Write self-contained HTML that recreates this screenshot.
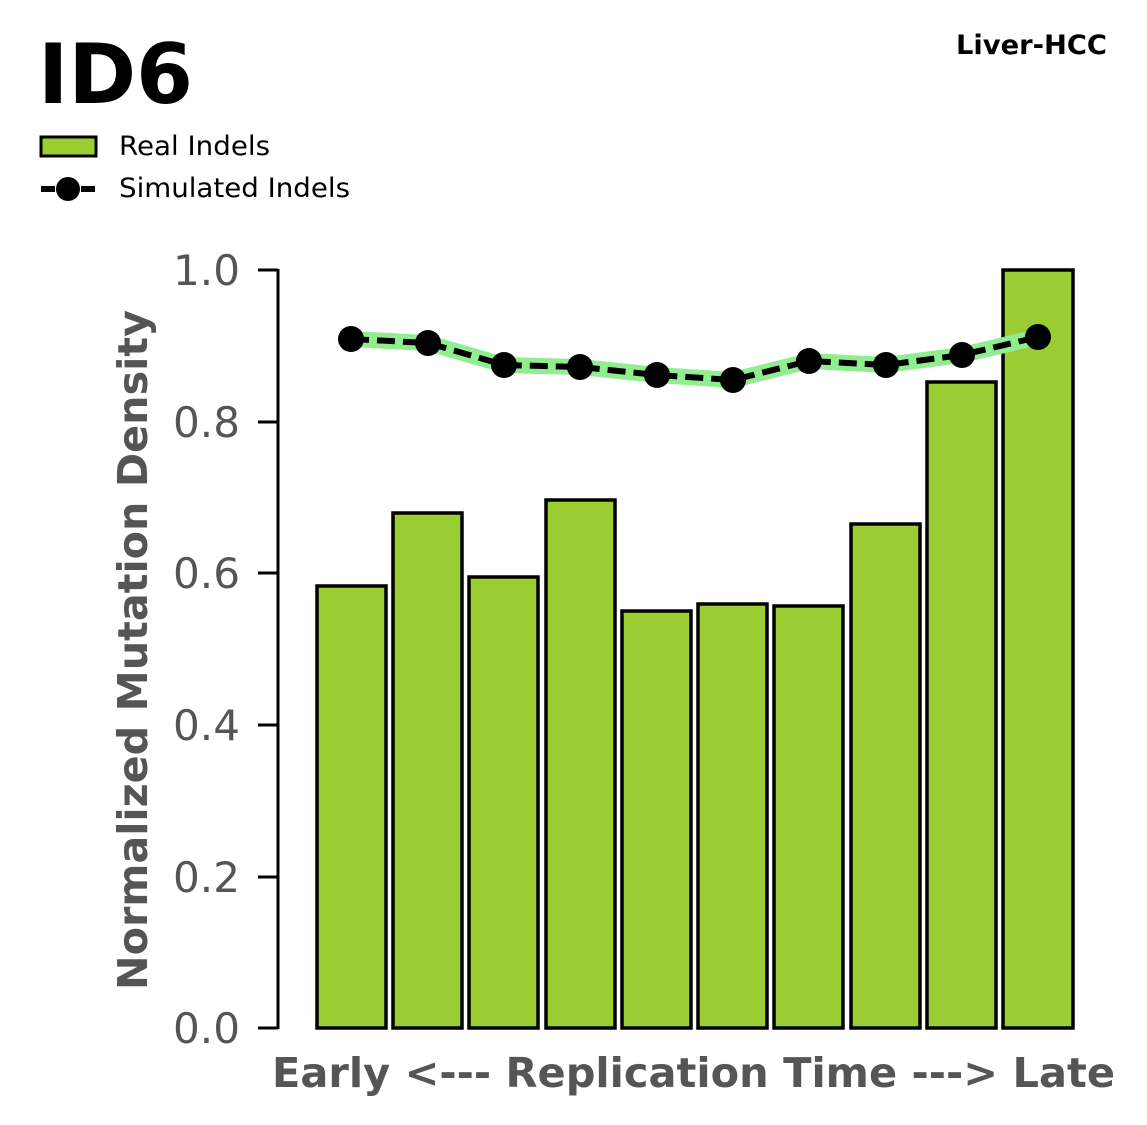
<!DOCTYPE html>
<html><head><meta charset="utf-8"><style>
html,body{margin:0;padding:0;background:#fff;}
svg{display:block;}
</style></head><body>
<svg width="1147" height="1125" viewBox="0 0 1147 1125" xmlns="http://www.w3.org/2000/svg" font-family="'DejaVu Sans','Liberation Sans',sans-serif">
<text x="38" y="103" font-size="83" font-weight="bold" fill="#000" textLength="155" lengthAdjust="spacingAndGlyphs">ID6</text>
<text x="956" y="54" font-size="27" font-weight="bold" fill="#000" textLength="151" lengthAdjust="spacingAndGlyphs">Liver-HCC</text>
<rect x="41" y="137" width="55" height="19" fill="#9acd32" stroke="#000" stroke-width="3"/>
<text x="119" y="155" font-size="27" fill="#000" textLength="151" lengthAdjust="spacingAndGlyphs">Real Indels</text>
<line x1="41" y1="189" x2="96" y2="189" stroke="#000" stroke-width="6" stroke-dasharray="14,6"/>
<circle cx="68" cy="189" r="12" fill="#000"/>
<text x="119" y="197" font-size="27" fill="#000" textLength="231" lengthAdjust="spacingAndGlyphs">Simulated Indels</text>
<g stroke="#000" stroke-width="3.5" fill="#9acd32">
<rect x="317" y="586" width="69" height="442"/>
<rect x="393" y="513" width="69" height="515"/>
<rect x="469" y="577" width="69" height="451"/>
<rect x="546" y="500" width="69" height="528"/>
<rect x="622" y="611" width="69" height="417"/>
<rect x="698" y="604" width="69" height="424"/>
<rect x="774" y="606" width="69" height="422"/>
<rect x="851" y="524" width="69" height="504"/>
<rect x="927" y="382" width="69" height="646"/>
<rect x="1003" y="270" width="70" height="758"/>
</g>
<polyline points="351,339 428,343 504,365 580,367 657,375 733,380 809,361 886,365 962,355 1038,337" fill="none" stroke="#90ee90" stroke-width="16" stroke-linejoin="round"/>
<polyline points="351,339 428,343 504,365 580,367 657,375 733,380 809,361 886,365 962,355 1038,337" fill="none" stroke="#000" stroke-width="6" stroke-dasharray="18,8"/>
<g fill="#000">
<circle cx="351" cy="339" r="13"/><circle cx="428" cy="343" r="13"/><circle cx="504" cy="365" r="13"/><circle cx="580" cy="367" r="13"/><circle cx="657" cy="375" r="13"/><circle cx="733" cy="380" r="13"/><circle cx="809" cy="361" r="13"/><circle cx="886" cy="365" r="13"/><circle cx="962" cy="355" r="13"/><circle cx="1038" cy="337" r="13"/>
</g>
<line x1="278" y1="269" x2="278" y2="1029" stroke="#000" stroke-width="3"/>
<g stroke="#000" stroke-width="3">
<line x1="258" y1="270" x2="278" y2="270"/><line x1="258" y1="422" x2="278" y2="422"/><line x1="258" y1="573" x2="278" y2="573"/><line x1="258" y1="725" x2="278" y2="725"/><line x1="258" y1="877" x2="278" y2="877"/><line x1="258" y1="1028" x2="278" y2="1028"/>
</g>
<g font-size="42" fill="#555">
<text x="173" y="285" textLength="67" lengthAdjust="spacingAndGlyphs">1.0</text>
<text x="173" y="437" textLength="67" lengthAdjust="spacingAndGlyphs">0.8</text>
<text x="173" y="588" textLength="67" lengthAdjust="spacingAndGlyphs">0.6</text>
<text x="173" y="740" textLength="67" lengthAdjust="spacingAndGlyphs">0.4</text>
<text x="173" y="892" textLength="67" lengthAdjust="spacingAndGlyphs">0.2</text>
<text x="173" y="1043" textLength="67" lengthAdjust="spacingAndGlyphs">0.0</text>
</g>
<text transform="translate(147,990) rotate(-90)" font-size="41" font-weight="bold" fill="#555" textLength="680" lengthAdjust="spacingAndGlyphs">Normalized Mutation Density</text>
<text x="272" y="1087" font-size="41" font-weight="bold" fill="#555" textLength="843" lengthAdjust="spacingAndGlyphs">Early &lt;--- Replication Time ---&gt; Late</text>
</svg>
</body></html>
